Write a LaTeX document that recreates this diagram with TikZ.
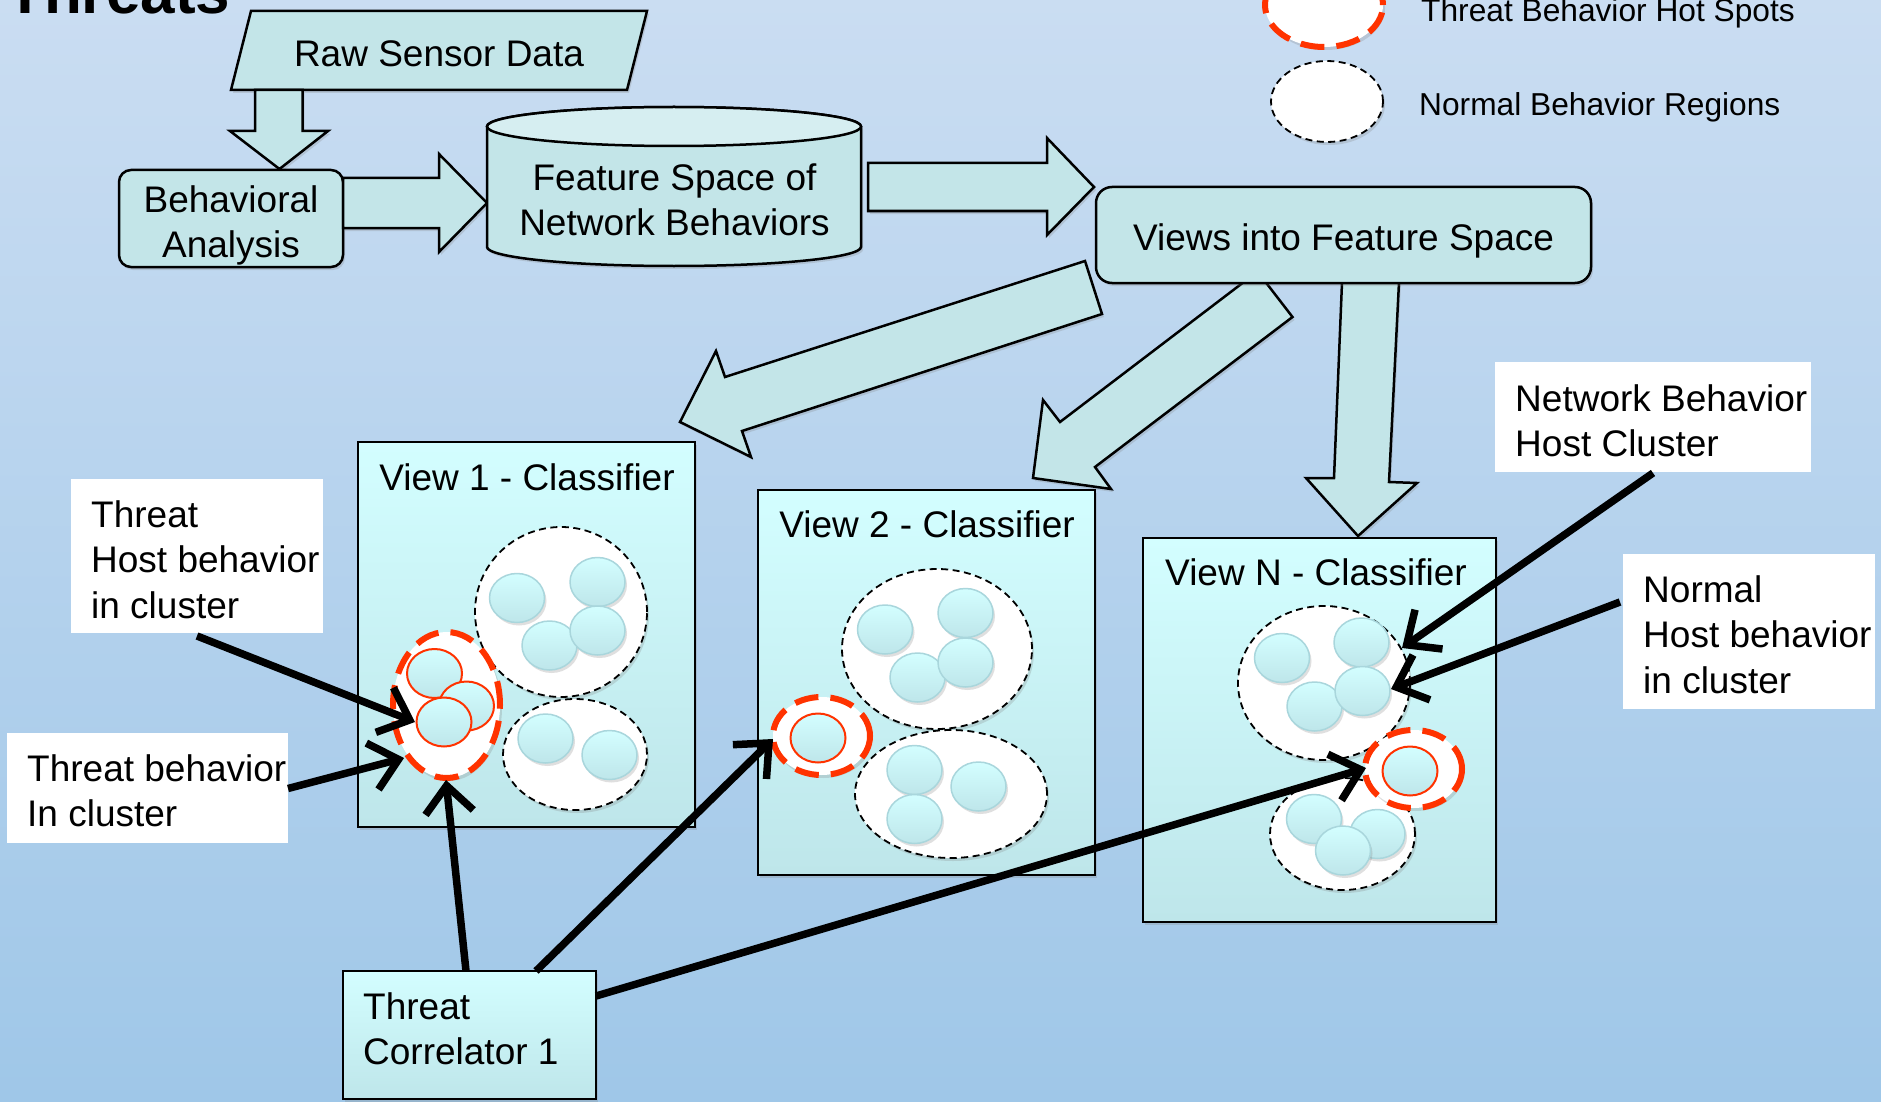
\documentclass[tikz,border=0pt]{standalone}
\usepackage{fontspec}
\setmainfont{Liberation Sans}
\usetikzlibrary{arrows.meta,shadows}
\definecolor{bgtop}{HTML}{CADDF2}
\definecolor{bgbot}{HTML}{9FC7E8}
\definecolor{tealfill}{HTML}{C3E5E8}
\definecolor{cyltop}{HTML}{D6EEF1}
\definecolor{cyantop}{HTML}{D3FEFF}
\definecolor{cyanbot}{HTML}{BEE6EA}
\definecolor{dotedge}{HTML}{A9D6DC}
\definecolor{hotred}{HTML}{FF3300}
\newcommand{\mylinesL}[1]{\begin{tabular}[t]{@{}l@{}}#1\end{tabular}}
\newcommand{\mylinesC}[1]{\begin{tabular}[t]{@{}c@{}}#1\end{tabular}}
\newcommand{\bead}[2]{\path[beadst] (#1,#2) ellipse [x radius=27.5pt, y radius=24.5pt];}
\newcommand{\hotbead}[2]{\path[hotbeadst] (#1,#2) ellipse [x radius=27.5pt, y radius=24.5pt];}
\begin{document}
\begin{tikzpicture}[x=1pt,y=-1pt,
  txt/.style={font=\fontsize{37pt}{45.5pt}\selectfont, inner sep=0pt},
  legtxt/.style={font=\fontsize{31.7pt}{38pt}\selectfont, inner sep=0pt},
  shad/.style={drop shadow={opacity=0.25, shadow xshift=2pt, shadow yshift=-3pt}},
  topshape/.style={draw=black, line width=2.5pt, fill=tealfill, shad},
  viewbox/.style={draw=black, line width=2.2pt, top color=cyantop, bottom color=cyanbot, shad},
  normreg/.style={draw=black, line width=1.8pt, dash pattern=on 7pt off 4.5pt, fill=white, shad},
  hotspot/.style={draw=hotred, line width=6pt, dash pattern=on 24pt off 12pt, fill=white, shad},
  beadst/.style={draw=dotedge, line width=1.5pt, top color=cyantop, bottom color=cyanbot, shad},
  hotbeadst/.style={draw=hotred, line width=2pt, top color=cyantop, bottom color=cyanbot},
  labbox/.style={fill=white, inner sep=0pt, anchor=north west},
  conn/.style={draw=black, line width=7.5pt, -{Straight Barb[length=27pt, width=48pt]}}
]
\useasboundingbox (0,0) rectangle (1881,1102);
\clip (0,0) rectangle (1881,1102);
\shade[top color=bgtop, bottom color=bgbot] (0,0) rectangle (1881,1102);

% title
\node[font=\fontsize{62pt}{62pt}\selectfont\bfseries, anchor=base west, inner sep=0pt] (title) at (6,14) {Threats};

% legend
\path[hotspot] (1324,5) ellipse [x radius=59pt, y radius=42pt];
\node[legtxt, anchor=base west] (leg1) at (1421,22) {Threat Behavior Hot Spots};
\path[normreg] (1327,101.5) ellipse [x radius=56pt, y radius=40.5pt];
\node[legtxt, anchor=base west] (leg2) at (1419,116) {Normal Behavior Regions};

% raw sensor data
\draw[topshape] (251,11) -- (647,11) -- (627,90) -- (231,90) -- cycle;
\node[txt, anchor=base] (raw) at (439,67) {Raw Sensor Data};
% down arrow
\draw[topshape] (255,90) -- (302.5,90) -- (302.5,131) -- (328,131) -- (279.5,169) -- (230,131) -- (255,131) -- cycle;

% behavioral analysis
\draw[topshape, rounded corners=12pt] (119,170) rectangle (343,267);
\node[txt, anchor=base] (ba) at (231,212) {\mylinesC{Behavioral\\Analysis}};
% right arrow
\draw[topshape] (343,178) -- (439,178) -- (439,154) -- (487,203) -- (439,252) -- (439,228) -- (343,228) -- cycle;

% cylinder
\draw[topshape] (487,126.5) -- (487,247) arc[start angle=180, end angle=360, x radius=187pt, y radius=19pt] -- (861,126.5) arc[start angle=0, end angle=180, x radius=187pt, y radius=19.5pt] -- cycle;
\draw[draw=black, line width=2.5pt, fill=cyltop] (674,126.5) ellipse [x radius=187pt, y radius=19.5pt];
\node[txt, anchor=base] (fs) at (674.5,190) {\mylinesC{Feature Space of\\Network Behaviors}};
% right arrow 2
\draw[topshape] (868,163) -- (1047,163) -- (1047,138) -- (1094,187) -- (1047,235) -- (1047,211) -- (868,211) -- cycle;

% big arrows from views
\draw[topshape] (1085,261) -- (725,377) -- (716,351) -- (680,422) -- (751,457) -- (742,431) -- (1102,314) -- cycle;
\draw[topshape] (1257.5,271.6) -- (1060,422) -- (1043,400) -- (1033,478) -- (1111,489) -- (1095,467) -- (1292.5,317) -- cycle;
\draw[topshape] (1342.5,270) -- (1334,478) -- (1306,478) -- (1358,536) -- (1417,483) -- (1389,482) -- (1399.6,270) -- cycle;

% views box
\draw[topshape, rounded corners=16pt] (1096,187) rectangle (1591,283);
\node[txt, anchor=base] (views) at (1343.5,250) {Views into Feature Space};

% view 1
\draw[viewbox] (358,442) rectangle (695,827);
\node[txt, anchor=base] (v1t) at (527,490) {View 1 - Classifier};
\path[normreg] (561,612) ellipse [x radius=86pt, y radius=85pt];
\bead{517}{598}\bead{597.5}{582}\bead{549.5}{645.5}\bead{597.5}{630.5}
\path[normreg] (575,754.5) ellipse [x radius=72pt, y radius=55.5pt];
\bead{545.5}{738.5}\bead{609.5}{755}
\path[hotspot] (446.5,705) ellipse [x radius=53.5pt, y radius=73pt];
\hotbead{434.5}{673.5}\hotbead{466.5}{706}\hotbead{444}{722}

% view 2
\draw[viewbox] (758,490) rectangle (1095,875);
\node[txt, anchor=base] (v2t) at (927,537) {View 2 - Classifier};
\path[normreg] (937,649) ellipse [x radius=95pt, y radius=80pt];
\bead{885}{629.5}\bead{965.5}{613}\bead{917.5}{677.5}\bead{965.5}{662.5}
\path[normreg] (951,794) ellipse [x radius=96pt, y radius=64pt];
\bead{914.5}{770}\bead{978.5}{786.5}\bead{914.5}{819}
\path[hotspot] (821.5,736) ellipse [x radius=48.5pt, y radius=39pt];
\hotbead{818}{738}

% view N
\draw[viewbox] (1143,538) rectangle (1496,922);
\node[txt, anchor=base] (vnt) at (1316,585) {View N - Classifier};
\path[normreg] (1324,683) ellipse [x radius=86pt, y radius=77pt];
\bead{1282}{658}\bead{1361.5}{642.5}\bead{1314.5}{706.5}\bead{1362.5}{691}
\path[normreg] (1342.5,834) ellipse [x radius=72.5pt, y radius=56pt];
\bead{1314}{819}\bead{1377.5}{834}\bead{1343}{850.5}
\path[hotspot] (1413.5,769) ellipse [x radius=48.5pt, y radius=39pt];
\hotbead{1410}{771}

% correlator
\draw[viewbox] (343,971) rectangle (596,1099);
\node[txt, anchor=base west] (corr) at (363,1019) {\mylinesL{Threat\\Correlator 1}};

% labels
\node[labbox, minimum width=252pt, minimum height=154pt] (lab1box) at (71,479) {};
\node[txt, anchor=base west] (lab1) at (91,527) {\mylinesL{Threat\\Host behavior\\in cluster}};
\node[labbox, minimum width=281pt, minimum height=110pt] (lab2box) at (7,733) {};
\node[txt, anchor=base west] (lab2) at (27,781) {\mylinesL{Threat behavior\\In cluster}};
\node[labbox, minimum width=316pt, minimum height=110pt] (lab3box) at (1495,362) {};
\node[txt, anchor=base west] (lab3) at (1515,411) {\mylinesL{Network Behavior\\Host Cluster}};
\node[labbox, minimum width=252pt, minimum height=155pt] (lab4box) at (1623,554) {};
\node[txt, anchor=base west] (lab4) at (1643,602) {\mylinesL{Normal\\Host behavior\\in cluster}};

% connector end points
\coordinate (l1s) at (197,636);
\coordinate (l1e) at (415,722);
\coordinate (l2s) at (288,788.5);
\coordinate (l2e) at (404,758);
\coordinate (l3s) at (1653,473);
\coordinate (l3e) at (1402,648);
\coordinate (l4s) at (1620,602);
\coordinate (l4e) at (1391,689);
\coordinate (c1s) at (466,971);
\coordinate (c1e) at (446,780);
\coordinate (c2s) at (536,971);
\coordinate (c2e) at (773,739);
\coordinate (c3s) at (596,996);
\coordinate (c3e) at (1366,768);

\draw[conn] (l1s) -- (l1e);
\draw[conn] (l2s) -- (l2e);
\draw[conn] (l3s) -- (l3e);
\draw[conn] (l4s) -- (l4e);
\draw[conn] (c1s) -- (c1e);
\draw[conn] (c2s) -- (c2e);
\draw[conn] (c3s) -- (c3e);
\end{tikzpicture}
\end{document}
